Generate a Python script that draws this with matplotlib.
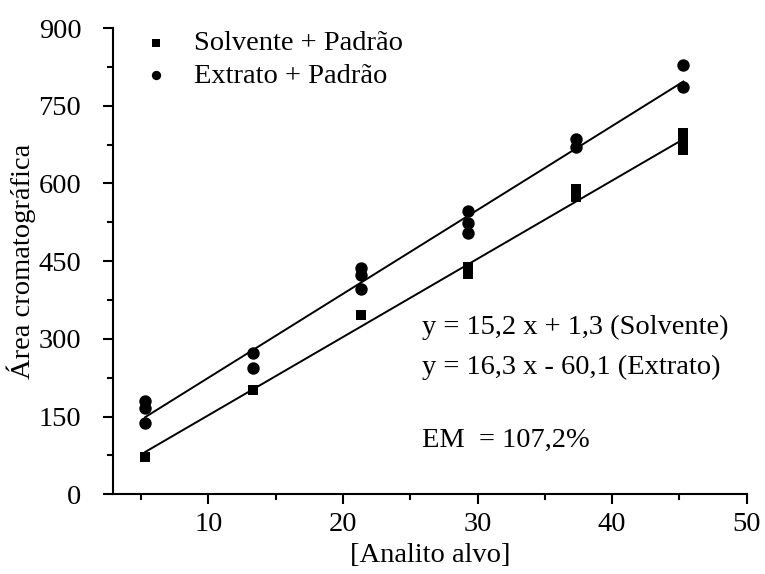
import numpy as np
import matplotlib
matplotlib.use("Agg")
import matplotlib.pyplot as plt
from matplotlib.ticker import MultipleLocator

plt.rcParams['font.family'] = ['Liberation Serif', 'DejaVu Serif']

# Data
sol_x = [5.3, 13.3, 21.3, 29.3, 29.3, 37.3, 37.3, 45.3, 45.3, 45.3]
sol_y = [72, 202, 346, 438, 426, 589, 574, 698, 681, 664]
ext_x = [5.3, 5.3, 5.3, 13.3, 13.3, 21.3, 21.3, 21.3, 29.3, 29.3, 29.3, 37.3, 37.3, 45.3, 45.3]
ext_y = [180, 167, 137, 272, 243, 437, 424, 396, 547, 524, 505, 686, 670, 829, 786]

# Drawn regression lines (slope, intercept)
line_slope = [15.1, 16.2]
line_intercept = [1.6, 63.0]
line_xrange = [5.3, 45.3]

labels = ["Solvente + Padrão", "Extrato + Padrão"]
eq_text = ["y = 15,2 x + 1,3 (Solvente)", "y = 16,3 x - 60,1 (Extrato)"]
em_text = "EM  = 107,2%"

FS = 20.5

fig = plt.figure(figsize=(7.65, 5.74), dpi=100)
ax = fig.add_axes([0.148, 0.139, 0.828, 0.812])

ax.scatter(sol_x, sol_y, marker='s', s=58, color='black', linewidths=0, label=labels[0], zorder=3)
ax.scatter(ext_x, ext_y, marker='o', s=80, color='black', linewidths=0, label=labels[1], zorder=3)

xx = np.array(line_xrange)
for m, b in zip(line_slope, line_intercept):
    ax.plot(xx, m * xx + b, color='black', lw=1.4, zorder=2)

ax.set_xlim(2.92, 50)
ax.set_ylim(0, 900)
ax.xaxis.set_major_locator(MultipleLocator(10))
ax.xaxis.set_minor_locator(MultipleLocator(5))
ax.yaxis.set_major_locator(MultipleLocator(150))
ax.yaxis.set_minor_locator(MultipleLocator(75))
ax.spines['top'].set_visible(False)
ax.spines['right'].set_visible(False)
for s in ['left', 'bottom']:
    ax.spines[s].set_linewidth(1.5)
ax.tick_params(which='major', direction='out', length=7, width=1.5, labelsize=FS)
ax.tick_params(which='minor', direction='out', length=4, width=1.5)
ax.tick_params(axis='x', which='major', pad=6)
ax.tick_params(axis='y', which='major', pad=16)

ax.set_xlabel("[Analito alvo]", fontsize=FS, labelpad=4)
ax.set_ylabel("Área cromatográfica", fontsize=FS, labelpad=2)

leg = ax.legend(loc='upper left', bbox_to_anchor=(0.027, 1.02), frameon=False, fontsize=FS,
                handletextpad=0.85, labelspacing=0.24, markerscale=0.75, borderaxespad=0,
                handlelength=1.0)

ax.text(25.9, 322, eq_text[0], fontsize=FS, va='center')
ax.text(25.9, 245, eq_text[1], fontsize=FS, va='center')
ax.text(25.9, 104, em_text, fontsize=FS, va='center')

fig.savefig("out.png", dpi=100)
